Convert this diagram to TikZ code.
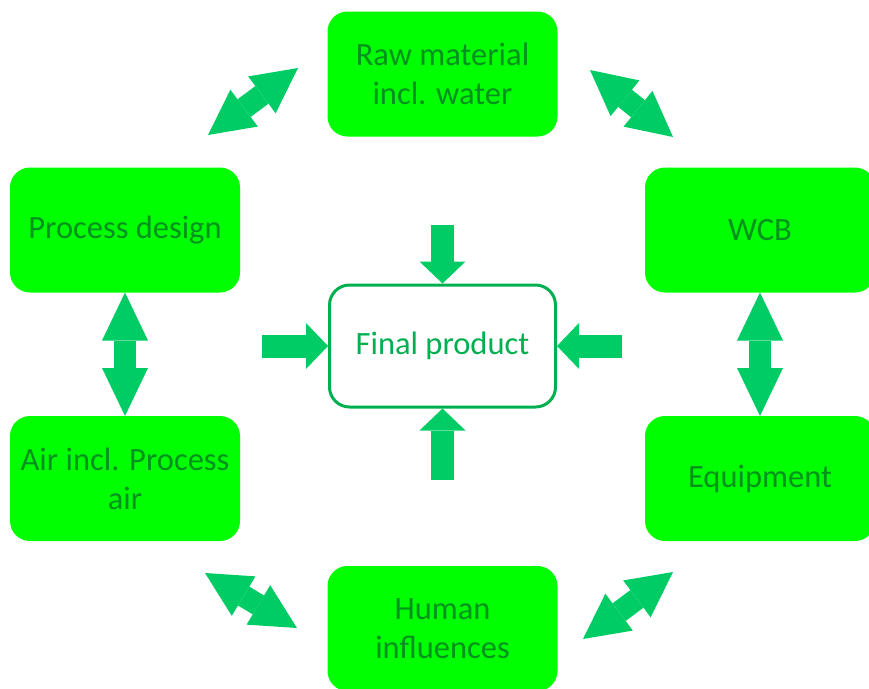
\documentclass[tikz,border=0pt]{standalone}
\usepackage{fontspec}
\setmainfont{Carlito}
\usetikzlibrary{arrows.meta}
\definecolor{boxgreen}{RGB}{0,255,0}
\definecolor{boxtext}{RGB}{0,145,30}
\definecolor{fpgreen}{RGB}{0,176,80}
\definecolor{arrowgreen}{RGB}{0,204,102}
\tikzset{
  box/.style={fill=boxgreen, rounded corners=20pt, minimum width=230pt, minimum height=125pt,
    text=boxtext, align=center, inner sep=0pt, outer sep=0pt, font=\fontsize{32.5}{39}\selectfont},
  fpbox/.style={draw=fpgreen, line width=3pt, fill=white, rounded corners=20pt, minimum width=226pt,
    minimum height=122pt, text=fpgreen, align=center, inner sep=0pt, font=\fontsize{32.5}{39}\selectfont},
  sarrow/.style={draw=arrowgreen, line width=23pt,
    -{Triangle[length=22pt,width=46pt,line width=0pt,fill=arrowgreen]}},
  dblarrow/.style={draw=arrowgreen, line width=22pt,
    {Triangle[length=48pt,width=46pt,line width=0pt,fill=arrowgreen]}-{Triangle[length=48pt,width=46pt,line width=0pt,fill=arrowgreen]}},
  diagarrow/.style={draw=arrowgreen, line width=22pt,
    {Triangle[length=45pt,width=46pt,line width=0pt,fill=arrowgreen]}-{Triangle[length=45pt,width=46pt,line width=0pt,fill=arrowgreen]}}
}
\begin{document}
\begin{tikzpicture}[x=1pt,y=-1pt]
\useasboundingbox (0,0) rectangle (869,688);
\clip (0,0) rectangle (869,688);
\node[box] (raw) at (442.5,74) {Raw material\\incl. water};
\node[box] (pd) at (125,230) {Process design};
\node[box] (wcb) at (760,230) {WCB};
\node[box] (air) at (125,478.5) {Air incl. Process\\air};
\node[box] (eq) at (760,478.5) {Equipment};
\node[box] (hum) at (442.5,628.5) {Human\\influences};
\node[fpbox] (fp) at (442.5,346) {Final product};
% vertical double arrows
\draw[dblarrow] (pd.south) -- (air.north);
\draw[dblarrow] (wcb.south) -- (eq.north);
% inward arrows to final product
\coordinate (tin) at (442.5,225);
\coordinate (bin) at (442.5,480);
\coordinate (lin) at (262,346);
\coordinate (rin) at (622,346);
\draw[sarrow] (tin) -- (fp.north);
\draw[sarrow] (bin) -- (fp.south);
\draw[sarrow] (lin) -- (fp.west);
\draw[sarrow] (rin) -- (fp.east);
% diagonal double arrows
\coordinate (d1a) at (208,135); \coordinate (d1b) at (298,68);
\coordinate (d2a) at (590,70);  \coordinate (d2b) at (673,137);
\coordinate (d3a) at (205,573); \coordinate (d3b) at (297,628);
\coordinate (d4a) at (583,639); \coordinate (d4b) at (673,572);
\draw[diagarrow] (d1a) -- (d1b);
\draw[diagarrow] (d2a) -- (d2b);
\draw[diagarrow] (d3a) -- (d3b);
\draw[diagarrow] (d4a) -- (d4b);
\end{tikzpicture}
\end{document}
